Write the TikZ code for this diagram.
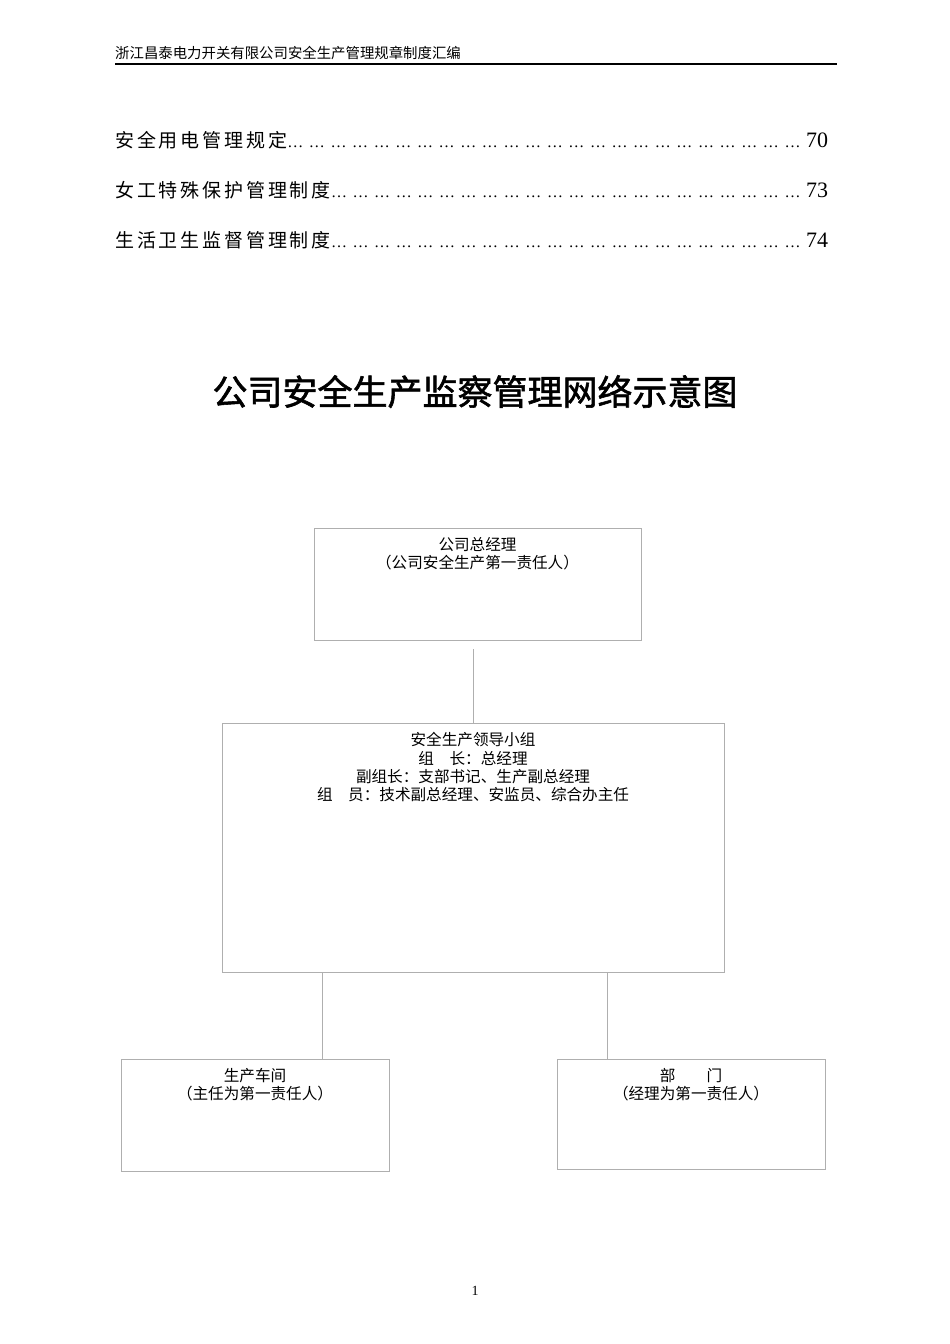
\documentclass[tikz,border=0pt]{standalone}
\usepackage{fontspec}
\setmainfont{Liberation Serif}
\newfontfamily\cjk{Noto Sans CJK SC}
\newfontfamily\cjktoc[LetterSpace=15]{Noto Sans CJK SC}
\newfontfamily\cjktitle[FakeBold=1.6]{Noto Sans CJK SC}
\usetikzlibrary{positioning,calc}
\definecolor{boxgray}{RGB}{175,175,175}
\tikzset{
  box/.style={draw=boxgray, line width=1pt, minimum width=#1, inner sep=0pt},
  boxtext/.style={inner sep=0pt, align=center, font=\cjk\fontsize{15.6}{18.3}\selectfont},
  link/.style={draw=boxgray, line width=1pt},
  tocline/.style={anchor=base west, inner sep=0pt, text width=713pt}
}
\newcommand{\tocdots}{\xleaders\hbox to 21.4pt{\fontsize{16}{16}\selectfont\rmfamily …\hss}\hfill}

\begin{document}
\begin{tikzpicture}[x=1pt,y=1pt]
    \useasboundingbox[fill=white] (0,0) rectangle (950,-1344);

    % Header
    \node[anchor=base west, inner sep=0pt, font=\cjk\fontsize{14.4}{14.4}\selectfont] (head) at (115,-58) {浙江昌泰电力开关有限公司安全生产管理规章制度汇编};
    \draw[line width=2pt] (115,-64) -- (837,-64);

    % Contents
    \node[tocline] (toc1) at (115,-147) {{\cjktoc\fontsize{19}{19}\selectfont 安全用电管理规定}\tocdots{\fontsize{22}{22}\selectfont 70}};
    \node[tocline] (toc2) at (115,-197) {{\cjktoc\fontsize{19}{19}\selectfont 女工特殊保护管理制度}\tocdots{\fontsize{22}{22}\selectfont 73}};
    \node[tocline] (toc3) at (115,-247) {{\cjktoc\fontsize{19}{19}\selectfont 生活卫生监督管理制度}\tocdots{\fontsize{22}{22}\selectfont 74}};

    % Title
    \node[anchor=base, inner sep=0pt, font=\cjktitle\fontsize{35}{35}\selectfont] (title) at (475,-405) {公司安全生产监察管理网络示意图};

    % Boxes
    \node[box=327pt, minimum height=112pt] (top) at (477.5,-584) {};
    \node[box=502pt, minimum height=249pt] (lead) at (473,-847.5) {};
    \node[box=268pt, minimum height=112pt] (shop) at (255,-1115) {};
    \node[box=268pt, minimum height=110pt] (dept) at (691,-1114) {};

    % Box texts
    \node[boxtext, below=9.5pt of top.north] (toptxt) {公司总经理\\（公司安全生产第一责任人）};
    \node[boxtext, below=10pt of lead.north] (leadtxt) {安全生产领导小组\\组\quad 长：总经理\\副组长：支部书记、生产副总经理\\组\quad 员：技术副总经理、安监员、综合办主任};
    \node[boxtext, below=9.5pt of shop.north] (shoptxt) {生产车间\\（主任为第一责任人）};
    \node[boxtext, below=9.5pt of dept.north] (depttxt) {部\qquad 门\\（经理为第一责任人）};

    % Connectors
    \draw[link, shorten >=8pt] (lead.north) -- (lead.north |- top.south);
    \draw[link] ([xshift=67pt]shop.north) -- ([xshift=67pt]shop.north |- lead.south);
    \draw[link] ([xshift=-84pt]dept.north) -- ([xshift=-84pt]dept.north |- lead.south);

    % Page number
    \node[anchor=base, inner sep=0pt, font=\fontsize{14}{14}\selectfont] (page) at (475,-1295) {1};
\end{tikzpicture}
\end{document}
